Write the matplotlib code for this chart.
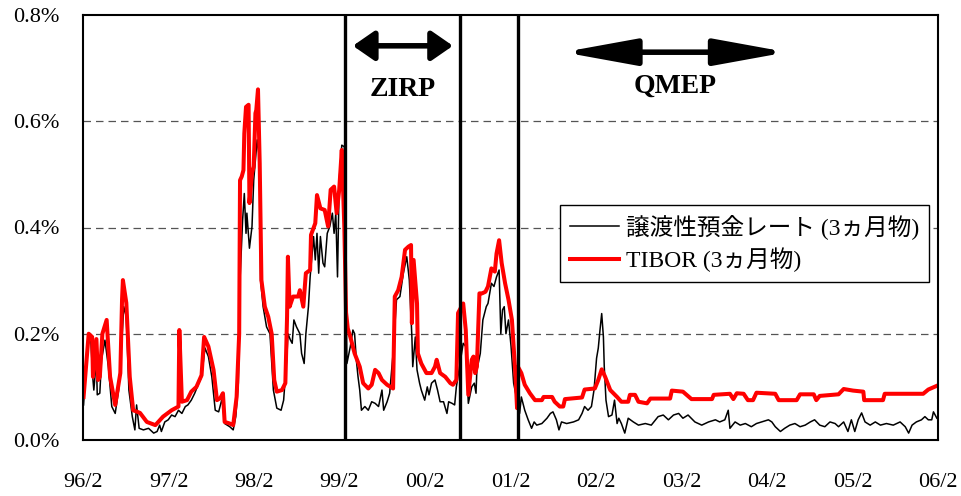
import matplotlib
matplotlib.use("Agg")
import matplotlib.pyplot as plt

plt.rcParams['font.family'] = ['Liberation Serif', 'Noto Sans CJK JP']

# decimal years, 96/2 .. 06/2
tibor_t = [1996.09, 1996.15, 1996.19, 1996.20, 1996.24, 1996.26, 1996.28, 1996.31, 1996.36, 1996.40,
           1996.46, 1996.52, 1996.54, 1996.55, 1996.59, 1996.63, 1996.67, 1996.75, 1996.83, 1996.93,
           1997.02, 1997.12, 1997.20, 1997.21, 1997.24, 1997.30, 1997.35, 1997.41, 1997.47, 1997.50,
           1997.55, 1997.61, 1997.65, 1997.69, 1997.72, 1997.74, 1997.80, 1997.84, 1997.88, 1997.91,
           1997.92, 1997.94, 1997.96, 1997.97, 1997.99, 1998.02, 1998.03, 1998.06, 1998.08, 1998.10,
           1998.11, 1998.13, 1998.15, 1998.17, 1998.21, 1998.25, 1998.29, 1998.32, 1998.35, 1998.41,
           1998.45, 1998.47, 1998.48, 1998.50, 1998.54, 1998.60, 1998.62, 1998.66, 1998.69, 1998.74,
           1998.75, 1998.80, 1998.82, 1998.86, 1998.91, 1998.95, 1998.98, 1999.02, 1999.05, 1999.08,
           1999.11, 1999.14, 1999.16, 1999.18, 1999.21, 1999.26, 1999.32, 1999.36, 1999.42, 1999.46,
           1999.50, 1999.54, 1999.58, 1999.64, 1999.71, 1999.73, 1999.77, 1999.81, 1999.85, 1999.89,
           1999.92, 1999.93, 1999.95, 1999.99, 2000.00, 2000.04, 2000.10, 2000.16, 2000.20, 2000.22,
           2000.26, 2000.32, 2000.38, 2000.41, 2000.45, 2000.47, 2000.53, 2000.56, 2000.59, 2000.63,
           2000.65, 2000.67, 2000.69, 2000.72, 2000.75, 2000.79, 2000.82, 2000.86, 2000.90, 2000.92,
           2000.95, 2000.98, 2001.02, 2001.06, 2001.10, 2001.12, 2001.14, 2001.16, 2001.17, 2001.21,
           2001.25, 2001.31, 2001.37, 2001.45, 2001.47, 2001.57, 2001.60, 2001.66, 2001.70, 2001.72,
           2001.92, 2001.95, 2002.07, 2002.11, 2002.15, 2002.19, 2002.25, 2002.33, 2002.38, 2002.46,
           2002.48, 2002.54, 2002.58, 2002.68, 2002.72, 2002.95, 2002.97, 2003.10, 2003.20, 2003.44,
           2003.46, 2003.65, 2003.69, 2003.73, 2003.81, 2003.86, 2003.92, 2003.96, 2004.18, 2004.22,
           2004.43, 2004.47, 2004.63, 2004.66, 2004.70, 2004.92, 2004.98, 2005.09, 2005.21, 2005.22,
           2005.44, 2005.46, 2005.91, 2005.97, 2006.07]
tibor = [0.081, 0.200, 0.194, 0.119, 0.190, 0.113, 0.119, 0.200, 0.226, 0.119,
         0.066, 0.126, 0.264, 0.301, 0.258, 0.119, 0.056, 0.051, 0.034, 0.028,
         0.044, 0.056, 0.063, 0.207, 0.072, 0.075, 0.091, 0.100, 0.122, 0.194,
         0.176, 0.132, 0.075, 0.079, 0.088, 0.034, 0.031, 0.028, 0.081, 0.200,
         0.489, 0.496, 0.508, 0.577, 0.627, 0.631, 0.446, 0.502, 0.515, 0.615,
         0.621, 0.660, 0.521, 0.301, 0.251, 0.232, 0.200, 0.113, 0.091, 0.094,
         0.107, 0.232, 0.345, 0.251, 0.270, 0.270, 0.282, 0.251, 0.314, 0.320,
         0.386, 0.408, 0.461, 0.436, 0.433, 0.402, 0.471, 0.477, 0.427, 0.471,
         0.546, 0.400, 0.240, 0.210, 0.194, 0.163, 0.138, 0.107, 0.097, 0.104,
         0.132, 0.126, 0.113, 0.104, 0.097, 0.270, 0.282, 0.307, 0.358, 0.364,
         0.367, 0.220, 0.339, 0.257, 0.163, 0.144, 0.126, 0.126, 0.138, 0.151,
         0.126, 0.119, 0.107, 0.104, 0.113, 0.239, 0.257, 0.207, 0.085, 0.151,
         0.157, 0.126, 0.138, 0.276, 0.276, 0.279, 0.289, 0.323, 0.317, 0.351,
         0.376, 0.333, 0.295, 0.264, 0.226, 0.176, 0.126, 0.060, 0.138, 0.126,
         0.104, 0.088, 0.075, 0.075, 0.081, 0.081, 0.072, 0.063, 0.063, 0.077,
         0.080, 0.095, 0.097, 0.113, 0.133, 0.119, 0.094, 0.081, 0.072, 0.072,
         0.085, 0.085, 0.072, 0.069, 0.078, 0.078, 0.093, 0.091, 0.077, 0.077,
         0.085, 0.087, 0.077, 0.088, 0.087, 0.075, 0.075, 0.089, 0.087, 0.075,
         0.075, 0.086, 0.086, 0.075, 0.083, 0.086, 0.096, 0.093, 0.091, 0.075,
         0.075, 0.087, 0.087, 0.095, 0.102]

cd_t = [1996.09, 1996.13, 1996.17, 1996.20, 1996.21, 1996.24, 1996.25, 1996.28, 1996.30, 1996.34,
        1996.38, 1996.42, 1996.46, 1996.50, 1996.54, 1996.56, 1996.59, 1996.62, 1996.66, 1996.69,
        1996.71, 1996.74, 1996.79, 1996.85, 1996.91, 1996.95, 1996.98, 1997.00, 1997.04, 1997.08,
        1997.12, 1997.16, 1997.20, 1997.24, 1997.28, 1997.31, 1997.35, 1997.39, 1997.43, 1997.47,
        1997.51, 1997.55, 1997.59, 1997.63, 1997.67, 1997.71, 1997.74, 1997.80, 1997.84, 1997.87,
        1997.90, 1997.92, 1997.95, 1997.97, 1997.99, 1998.00, 1998.03, 1998.06, 1998.08, 1998.10,
        1998.12, 1998.15, 1998.16, 1998.19, 1998.23, 1998.27, 1998.31, 1998.35, 1998.40, 1998.43,
        1998.47, 1998.48, 1998.51, 1998.53, 1998.55, 1998.58, 1998.62, 1998.64, 1998.67, 1998.69,
        1998.72, 1998.74, 1998.78, 1998.80, 1998.82, 1998.84, 1998.86, 1998.89, 1998.91, 1998.94,
        1998.97, 1999.00, 1999.02, 1999.04, 1999.06, 1999.08, 1999.11, 1999.14, 1999.17, 1999.21,
        1999.24, 1999.26, 1999.28, 1999.30, 1999.32, 1999.34, 1999.38, 1999.42, 1999.46, 1999.50,
        1999.54, 1999.58, 1999.60, 1999.64, 1999.67, 1999.71, 1999.75, 1999.79, 1999.83, 1999.87,
        1999.90, 1999.93, 1999.94, 1999.97, 1999.99, 2000.02, 2000.04, 2000.08, 2000.11, 2000.13,
        2000.16, 2000.20, 2000.23, 2000.26, 2000.30, 2000.34, 2000.36, 2000.40, 2000.43, 2000.45,
        2000.53, 2000.56, 2000.59, 2000.63, 2000.66, 2000.68, 2000.69, 2000.73, 2000.76, 2000.80,
        2000.82, 2000.86, 2000.89, 2000.92, 2000.95, 2000.97, 2000.99, 2001.01, 2001.03, 2001.06,
        2001.09, 2001.12, 2001.16, 2001.19, 2001.21, 2001.25, 2001.29, 2001.33, 2001.36, 2001.39,
        2001.45, 2001.51, 2001.55, 2001.58, 2001.62, 2001.65, 2001.68, 2001.74, 2001.82, 2001.88,
        2001.92, 2001.95, 2001.99, 2002.03, 2002.06, 2002.09, 2002.11, 2002.13, 2002.15, 2002.17,
        2002.18, 2002.20, 2002.23, 2002.27, 2002.30, 2002.33, 2002.35, 2002.38, 2002.42, 2002.46,
        2002.52, 2002.58, 2002.66, 2002.73, 2002.81, 2002.87, 2002.93, 2002.99, 2003.05, 2003.10,
        2003.16, 2003.24, 2003.32, 2003.40, 2003.48, 2003.53, 2003.59, 2003.63, 2003.65, 2003.71,
        2003.77, 2003.83, 2003.90, 2003.96, 2004.02, 2004.10, 2004.14, 2004.18, 2004.24, 2004.29,
        2004.35, 2004.41, 2004.47, 2004.53, 2004.59, 2004.64, 2004.70, 2004.76, 2004.82, 2004.88,
        2004.92, 2004.98, 2005.03, 2005.07, 2005.11, 2005.15, 2005.19, 2005.23, 2005.29, 2005.35,
        2005.41, 2005.48, 2005.56, 2005.64, 2005.70, 2005.74, 2005.78, 2005.83, 2005.89, 2005.93,
        2005.97, 2006.01, 2006.03, 2006.07]
cd = [0.066, 0.169, 0.200, 0.113, 0.094, 0.151, 0.085, 0.088, 0.151, 0.188,
      0.138, 0.063, 0.050, 0.094, 0.194, 0.251, 0.232, 0.094, 0.044, 0.019,
      0.066, 0.022, 0.019, 0.022, 0.013, 0.016, 0.028, 0.016, 0.034, 0.038,
      0.047, 0.044, 0.056, 0.050, 0.063, 0.066, 0.075, 0.088, 0.104, 0.119,
      0.173, 0.157, 0.119, 0.056, 0.053, 0.078, 0.031, 0.025, 0.019, 0.044,
      0.107, 0.301, 0.414, 0.464, 0.389, 0.427, 0.361, 0.402, 0.489, 0.527,
      0.565, 0.527, 0.301, 0.251, 0.213, 0.200, 0.094, 0.060, 0.056, 0.075,
      0.163, 0.200, 0.188, 0.182, 0.226, 0.213, 0.200, 0.163, 0.144, 0.200,
      0.251, 0.307, 0.383, 0.339, 0.389, 0.314, 0.383, 0.333, 0.326, 0.389,
      0.402, 0.427, 0.389, 0.427, 0.307, 0.489, 0.555, 0.552, 0.144, 0.176,
      0.207, 0.200, 0.151, 0.119, 0.094, 0.056, 0.063, 0.056, 0.072, 0.069,
      0.063, 0.094, 0.056, 0.072, 0.088, 0.163, 0.264, 0.270, 0.314, 0.345,
      0.301, 0.194, 0.138, 0.194, 0.132, 0.107, 0.094, 0.075, 0.100, 0.085,
      0.107, 0.113, 0.094, 0.072, 0.072, 0.050, 0.072, 0.069, 0.066, 0.100,
      0.182, 0.176, 0.069, 0.100, 0.107, 0.088, 0.132, 0.163, 0.226, 0.251,
      0.257, 0.295, 0.289, 0.307, 0.320, 0.200, 0.245, 0.251, 0.200, 0.226,
      0.176, 0.107, 0.075, 0.050, 0.081, 0.056, 0.038, 0.022, 0.034, 0.028,
      0.031, 0.041, 0.050, 0.053, 0.038, 0.019, 0.034, 0.031, 0.034, 0.038,
      0.050, 0.063, 0.056, 0.063, 0.094, 0.154, 0.173, 0.207, 0.238, 0.194,
      0.138, 0.075, 0.044, 0.047, 0.075, 0.031, 0.041, 0.031, 0.013, 0.041,
      0.034, 0.028, 0.031, 0.028, 0.044, 0.047, 0.038, 0.047, 0.050, 0.041,
      0.047, 0.034, 0.028, 0.034, 0.038, 0.034, 0.038, 0.056, 0.022, 0.034,
      0.028, 0.031, 0.025, 0.031, 0.034, 0.038, 0.034, 0.025, 0.016, 0.022,
      0.028, 0.031, 0.025, 0.028, 0.034, 0.038, 0.028, 0.025, 0.034, 0.031,
      0.025, 0.034, 0.016, 0.038, 0.016, 0.038, 0.051, 0.034, 0.028, 0.034,
      0.028, 0.031, 0.028, 0.034, 0.025, 0.013, 0.028, 0.034, 0.038, 0.044,
      0.038, 0.038, 0.053, 0.041]

tick_years = [1996 + 1 / 12 + k for k in range(11)]
tick_labels = ["96/2", "97/2", "98/2", "99/2", "00/2", "01/2", "02/2", "03/2", "04/2", "05/2", "06/2"]

# policy regime boundaries
zirp_start, zirp_end, qmep_start = 1999.15, 2000.49, 2001.17

fig = plt.figure(figsize=(9.62, 4.96), dpi=100)
ax = fig.add_axes([83 / 962, 1 - 440 / 496, 855 / 962, 425 / 496])

ax.plot(cd_t, cd, color="black", lw=1.1, label="譲渡性預金レート (3ヵ月物)")
ax.plot(tibor_t, tibor, color="#ff0000", lw=2.9, label="TIBOR (3ヵ月物)")

for xv in (zirp_start, zirp_end, qmep_start):
    ax.axvline(xv, color="black", lw=2.4)

for yv in (0.2, 0.4, 0.6):
    ax.axhline(yv, color="#555555", lw=0.9, dashes=(6, 4), zorder=0)

ax.set_xlim(tick_years[0], tick_years[-1])
ax.set_ylim(0, 0.8)
ax.set_xticks(tick_years)
ax.set_xticklabels(tick_labels)
ax.set_yticks([0, 0.2, 0.4, 0.6, 0.8])
ax.set_yticklabels(["0.0%", "0.2%", "0.4%", "0.6%", "0.8%"])
ax.tick_params(axis="both", length=0, labelsize=16)
ax.tick_params(axis="y", pad=17)
ax.tick_params(axis="x", pad=24)
for sp in ax.spines.values():
    sp.set_linewidth(1.5)

arrow = dict(arrowstyle="<|-|>,head_length=0.65,head_width=0.45", mutation_scale=20,
             lw=4, color="black", shrinkA=0, shrinkB=0)
ax.annotate("", xy=(2000.41, 0.742), xytext=(1999.24, 0.742), arrowprops=arrow)
ax.annotate("", xy=(2004.32, 0.730), xytext=(2001.70, 0.730),
            arrowprops=dict(arrow, arrowstyle="<|-|>,head_length=2.2,head_width=0.4"))
ax.text(1999.82, 0.659, "ZIRP", ha="center", va="center", fontsize=20, fontweight="bold")
ax.text(2003.01, 0.666, "QMEP", ha="center", va="center", fontsize=20, fontweight="bold")

leg = ax.legend(loc="upper right", bbox_to_anchor=(0.9895, 0.553), borderaxespad=0,
                fontsize=17, handlelength=2.1, handletextpad=0.3, fancybox=False,
                framealpha=1, edgecolor="black", borderpad=0.4, labelspacing=0.35)
leg.get_frame().set_linewidth(1.0)

fig.savefig("out.png", dpi=100)
